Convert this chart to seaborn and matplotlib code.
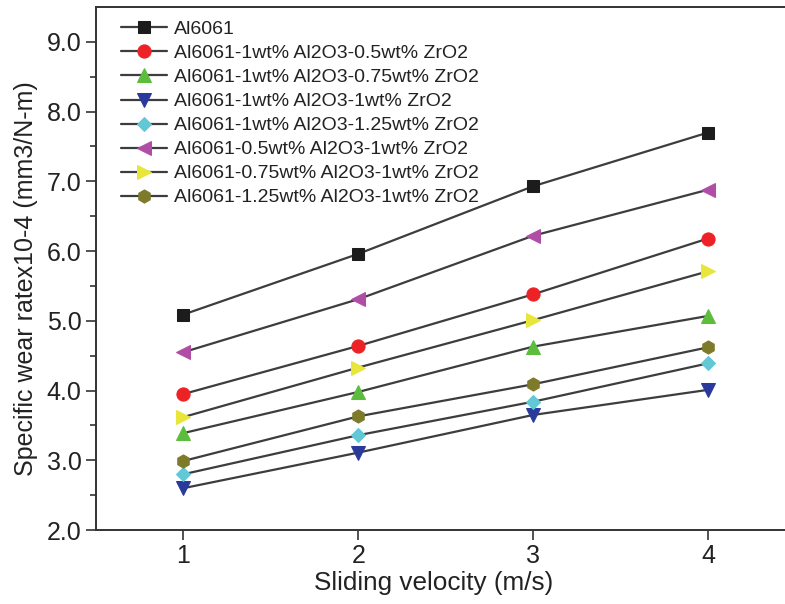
import matplotlib
matplotlib.use("Agg")
import matplotlib.pyplot as plt
import seaborn as sns
import pandas as pd

# Sliding velocity (m/s)
velocity = [1, 2, 3, 4]

# Specific wear rate x10-4 (mm3/N-m)
al6061 = [5.09, 5.96, 6.93, 7.70]
al_1a_05z = [3.95, 4.64, 5.38, 6.18]
al_1a_075z = [3.39, 3.98, 4.63, 5.07]
al_1a_1z = [2.60, 3.11, 3.65, 4.01]
al_1a_125z = [2.80, 3.36, 3.84, 4.39]
al_05a_1z = [4.55, 5.31, 6.22, 6.88]
al_075a_1z = [3.62, 4.33, 5.01, 5.71]
al_125a_1z = [2.99, 3.63, 4.09, 4.62]

labels = [
    "Al6061",
    "Al6061-1wt% Al2O3-0.5wt% ZrO2",
    "Al6061-1wt% Al2O3-0.75wt% ZrO2",
    "Al6061-1wt% Al2O3-1wt% ZrO2",
    "Al6061-1wt% Al2O3-1.25wt% ZrO2",
    "Al6061-0.5wt% Al2O3-1wt% ZrO2",
    "Al6061-0.75wt% Al2O3-1wt% ZrO2",
    "Al6061-1.25wt% Al2O3-1wt% ZrO2",
]
series = [al6061, al_1a_05z, al_1a_075z, al_1a_1z, al_1a_125z, al_05a_1z, al_075a_1z, al_125a_1z]
markers = ["s", "o", "^", "v", "D", "<", ">", "h"]
colors = ["#1c1c1c", "#ec2227", "#5cbd3d", "#2a3a9c", "#62c8d5", "#b04ea6", "#e8e63a", "#7d7a2a"]
sizes = [8, 9.5, 9.5, 9.5, 7.5, 9.5, 9.5, 9.5]

sns.set_theme(style="ticks")
plt.rcParams["font.family"] = ["Liberation Sans", "DejaVu Sans"]

fig = plt.figure(figsize=(7.85, 6.04), dpi=100)
ax = fig.add_axes([0.1223, 0.1225, 0.8777, 0.8659])

for lab, vals, m, c, s in zip(labels, series, markers, colors, sizes):
    df = pd.DataFrame({"velocity": velocity, "rate": vals})
    sns.lineplot(data=df, x="velocity", y="rate", ax=ax, color="#3d3d3d", linewidth=1.6,
                 marker=m, markersize=s, markerfacecolor=c, markeredgecolor=c,
                 label=lab)

ax.set_xlim(0.5, 4.44)
ax.set_ylim(2.0, 9.5)
ax.set_xticks(velocity)
ax.set_yticks([2, 3, 4, 5, 6, 7, 8, 9])
ax.set_yticks([2.5, 3.5, 4.5, 5.5, 6.5, 7.5, 8.5], minor=True)
ax.yaxis.set_major_formatter(matplotlib.ticker.FormatStrFormatter("%.1f"))
ax.tick_params(axis="both", which="major", labelsize=18, length=7, width=1.2, color="#333333",
               labelcolor="#222222", direction="out")
ax.tick_params(axis="y", which="minor", length=4, width=1.2, color="#333333")
ax.tick_params(axis="x", pad=3)

for side in ["left", "bottom", "top"]:
    ax.spines[side].set_linewidth(1.4)
    ax.spines[side].set_color("#333333")
ax.spines["right"].set_visible(False)

ax.set_xlabel("Sliding velocity (m/s)", fontsize=18.8, color="#222222")
ax.set_ylabel("Specific wear ratex10-4 (mm3/N-m)", fontsize=18, color="#222222")
ax.xaxis.set_label_coords(0.49, -0.078)
ax.yaxis.set_label_coords(-0.084, 0.48)

leg = ax.legend(loc="upper left", bbox_to_anchor=(0.016, 1.0), frameon=False, fontsize=14,
                handlelength=2.4, handletextpad=0.35, labelspacing=0.33, borderaxespad=0.3)
for t in leg.get_texts():
    t.set_color("#222222")

fig.savefig("out.png", dpi=100)
